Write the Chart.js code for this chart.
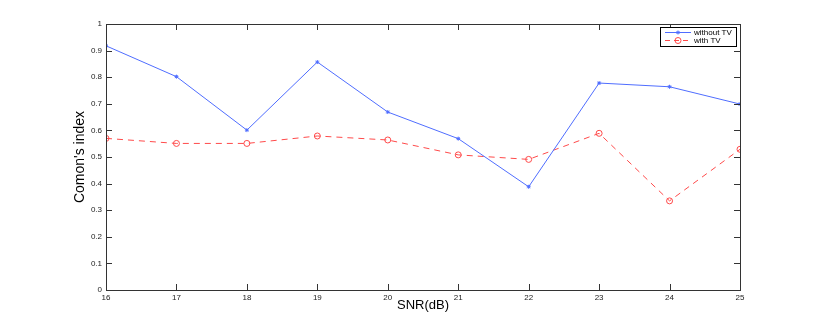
<!DOCTYPE html>
<html>
<head>
<meta charset="utf-8">
<script src="https://cdn.jsdelivr.net/npm/chart.js@4"></script>
<style>
  html, body { margin: 0; padding: 0; background: #fff; }
  #wrap { width: 817px; height: 327px; }
</style>
</head>
<body>
<div id="wrap"><canvas id="snrChart" width="817" height="327"></canvas></div>
<script>
// values
const snr = [16, 17, 18, 19, 20, 21, 22, 23, 24, 25];
const withoutTV = [0.918, 0.802, 0.601, 0.857, 0.669, 0.569, 0.388, 0.778, 0.764, 0.699];
const withTV = [0.570, 0.551, 0.551, 0.579, 0.564, 0.508, 0.491, 0.589, 0.335, 0.529];
const yTicks = [0, 0.1, 0.2, 0.3, 0.4, 0.5, 0.6, 0.7, 0.8, 0.9, 1];
const seriesNames = ['without TV', 'with TV'];

const axisColor = '#333333';
const blue = '#4f6dff';
const red = '#ff4a4a';

// MATLAB style box, inward ticks and small legend
const matlabBox = {
    id: 'matlabBox',
    afterDraw(chart) {
        const ctx = chart.ctx;
        const a = chart.chartArea;
        const xs = chart.scales.x, ys = chart.scales.y;
        ctx.save();
        ctx.strokeStyle = axisColor;
        ctx.lineWidth = 1;
        ctx.strokeRect(Math.round(a.left) + 0.5, Math.round(a.top) + 0.5,
            Math.round(a.right - a.left), Math.round(a.bottom - a.top));
        ctx.beginPath();
        snr.forEach(v => {
            const px = Math.round(xs.getPixelForValue(v)) + 0.5;
            ctx.moveTo(px, a.bottom); ctx.lineTo(px, a.bottom - 6);
            ctx.moveTo(px, a.top); ctx.lineTo(px, a.top + 6);
        });
        yTicks.forEach(v => {
            const py = Math.round(ys.getPixelForValue(v)) + 0.5;
            ctx.moveTo(a.left, py); ctx.lineTo(a.left + 6, py);
            ctx.moveTo(a.right, py); ctx.lineTo(a.right - 6, py);
        });
        ctx.stroke();

        // legend
        const lx = 660, ly = 27, lw = 76, lh = 19;
        ctx.fillStyle = '#fff';
        ctx.fillRect(lx, ly, lw, lh);
        ctx.strokeStyle = '#000';
        ctx.strokeRect(lx + 0.5, ly + 0.5, lw, lh);
        ctx.font = '8px "Liberation Sans", Arial, sans-serif';
        ctx.textBaseline = 'middle';
        const rows = [
            { y: ly + 5.5, color: blue, dash: [], marker: 'star' },
            { y: ly + 13.5, color: red, dash: [5, 4], marker: 'circle' }
        ];
        rows.forEach((r, i) => {
            ctx.strokeStyle = r.color;
            ctx.setLineDash(r.dash);
            ctx.beginPath();
            ctx.moveTo(665, r.y); ctx.lineTo(691, r.y);
            ctx.stroke();
            ctx.setLineDash([]);
            ctx.beginPath();
            if (r.marker === 'circle') {
                ctx.arc(678, r.y, 3, 0, Math.PI * 2);
            } else {
                ctx.moveTo(676, r.y); ctx.lineTo(680, r.y);
                ctx.moveTo(678, r.y - 2); ctx.lineTo(678, r.y + 2);
                ctx.moveTo(676.5, r.y - 1.5); ctx.lineTo(679.5, r.y + 1.5);
                ctx.moveTo(679.5, r.y - 1.5); ctx.lineTo(676.5, r.y + 1.5);
            }
            ctx.stroke();
            ctx.fillStyle = '#000';
            ctx.fillText(seriesNames[i], 694, r.y);
        });
        ctx.restore();
    }
};

const grafico = document.getElementById('snrChart').getContext('2d');
const lineChart = new Chart(grafico, {
    type: 'line',
    data: {
        datasets: [
            {
                label: seriesNames[0],
                data: snr.map((s, i) => ({ x: s, y: withoutTV[i] })),
                borderColor: blue,
                backgroundColor: blue,
                borderWidth: 1,
                pointStyle: 'star',
                pointRadius: 2,
                pointBorderWidth: 1,
                pointBorderColor: blue,
                tension: 0
            },
            {
                label: seriesNames[1],
                data: snr.map((s, i) => ({ x: s, y: withTV[i] })),
                borderColor: red,
                backgroundColor: 'rgba(0,0,0,0)',
                borderWidth: 1,
                borderDash: [6, 5],
                pointStyle: 'circle',
                pointRadius: 3,
                pointBorderWidth: 1,
                pointBorderColor: red,
                tension: 0
            }
        ]
    },
    options: {
        responsive: false,
        animation: false,
        layout: { padding: { left: 72, right: 77, top: 24, bottom: 14 } },
        scales: {
            x: {
                type: 'linear',
                min: 16,
                max: 25,
                grid: { display: false, drawTicks: false },
                border: { display: false },
                afterBuildTicks: scale => { scale.ticks = snr.map(v => ({ value: v })); },
                afterFit: scale => { scale.height = 23; },
                ticks: {
                    color: '#222',
                    padding: 3,
                    maxRotation: 0,
                    font: { size: 8, family: '"Liberation Sans", Arial, sans-serif' }
                },
                title: {
                    display: true,
                    text: 'SNR(dB)',
                    color: '#000',
                    padding: { top: 0, bottom: 0 },
                    font: { size: 13, family: '"Liberation Sans", Arial, sans-serif' }
                }
            },
            y: {
                min: 0,
                max: 1,
                grid: { display: false, drawTicks: false },
                border: { display: false },
                afterBuildTicks: scale => { scale.ticks = yTicks.map(v => ({ value: v })); },
                afterFit: scale => { scale.width = 34; },
                ticks: {
                    color: '#222',
                    padding: 4,
                    font: { size: 8, family: '"Liberation Sans", Arial, sans-serif' },
                    callback: value => String(value)
                },
                title: {
                    display: true,
                    text: "Comon's index",
                    color: '#000',
                    padding: { top: 0, bottom: 0 },
                    font: { size: 14, family: '"Liberation Sans Narrow", "Liberation Sans", Arial, sans-serif' }
                }
            }
        },
        plugins: {
            legend: { display: false },
            tooltip: { enabled: false }
        }
    },
    plugins: [matlabBox]
});
</script>
</body>
</html>
